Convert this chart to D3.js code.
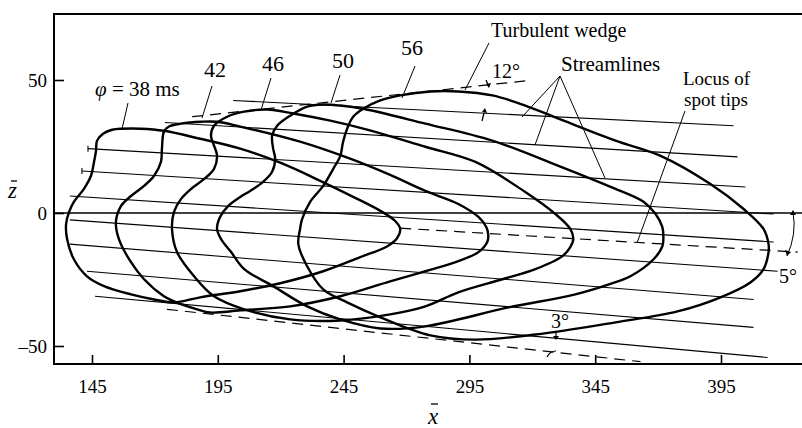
<!DOCTYPE html>
<html><head><meta charset="utf-8">
<script src="https://cdn.jsdelivr.net/npm/d3@7"></script>
<style>
html,body{margin:0;padding:0;background:#fff;}
svg{display:block;}
text{font-family:"Liberation Serif","Times New Roman",serif;fill:#000;}
</style></head>
<body>
<svg id="c" width="802" height="428"></svg>
<script>
// ---------- data ----------
const xTicks = [145, 195, 245, 295, 345, 395];
const zTicks = [50, 0, -50];
const spotLabels = ["\u03c6 = 38 ms", "42", "46", "50", "56"];

// spot outlines (x̄, z̄), one closed curve per time
const spot38 = [[147.0,27.2],[149.4,29.8],[153.0,31.3],[156.9,31.7],[164.5,31.7],[173.6,30.9],[188.0,27.9],[203.9,24.2],[219.8,18.9],[235.7,12.1],[249.6,5.7],[259.6,0.8],[265.5,-3.0],[267.5,-6.0],[266.3,-9.4],[262.4,-12.5],[251.6,-16.6],[236.9,-21.9],[219.8,-26.4],[203.9,-29.4],[188.0,-31.7],[177.6,-33.6],[169.7,-32.5],[160.5,-30.6],[149.8,-27.5],[143.0,-23.8],[137.8,-17.4],[135.1,-9.8],[134.7,-4.2],[135.9,0.4],[137.8,4.2],[141.8,9.1],[144.6,14.0],[145.8,19.2],[146.6,23.4]];
const spot42 = [[173.6,30.6],[175.6,32.5],[180.4,33.6],[188.4,34.3],[194.7,34.3],[203.9,32.5],[227.7,26.8],[247.6,20.4],[263.5,14.3],[277.5,8.3],[290.6,3.4],[298.6,-1.5],[301.7,-5.3],[302.5,-8.3],[302.1,-10.9],[298.6,-14.7],[290.6,-18.1],[277.5,-21.9],[263.5,-25.7],[243.7,-31.3],[223.8,-35.1],[203.9,-36.6],[191.9,-37.4],[186.8,-36.2],[177.6,-33.2],[173.6,-31.3],[165.7,-24.9],[160.5,-18.5],[155.7,-9.8],[154.5,-3.4],[156.5,2.6],[160.5,6.4],[165.7,10.2],[169.7,14.0],[172.4,19.2],[172.8,24.2]];
const spot46 = [[192.3,29.1],[193.5,32.8],[198.7,36.2],[205.5,38.1],[214.6,38.9],[225.0,37.4],[239.7,34.7],[252.8,31.7],[277.5,24.9],[297.4,19.2],[317.2,7.9],[329.2,-0.4],[335.1,-6.0],[336.3,-9.8],[335.1,-12.8],[332.0,-16.2],[321.2,-21.1],[308.1,-24.9],[290.6,-29.8],[277.5,-35.1],[263.5,-38.1],[243.7,-40.4],[223.8,-40.0],[205.5,-36.2],[193.5,-31.3],[185.6,-23.8],[178.8,-14.7],[176.8,-6.0],[177.6,0.4],[180.4,5.3],[184.4,9.1],[189.6,12.8],[193.5,16.6],[194.7,21.5]];
const spot50 = [[216.6,29.1],[218.6,32.8],[223.8,36.6],[230.5,40.0],[236.9,40.8],[243.7,40.4],[252.8,39.2],[277.5,33.6],[304.1,27.2],[330.4,17.7],[351.1,9.8],[364.2,4.2],[369.0,-0.4],[371.7,-5.3],[372.1,-9.1],[371.7,-12.5],[368.2,-17.4],[359.0,-23.8],[353.1,-26.0],[337.1,-30.6],[310.5,-35.5],[277.5,-42.6],[259.6,-43.4],[243.7,-40.0],[230.5,-35.1],[217.0,-27.5],[205.5,-21.1],[200.3,-14.7],[196.3,-9.8],[194.7,-6.0],[195.9,-1.5],[199.1,2.6],[203.9,6.0],[207.9,8.3],[213.0,11.7],[216.6,15.5],[217.8,20.4],[217.0,24.2]];
const spot56 = [[252.8,39.2],[259.6,42.3],[267.5,44.2],[279.5,45.7],[290.6,45.7],[304.1,44.2],[317.2,40.4],[330.4,35.5],[353.1,27.2],[371.0,21.5],[390.8,10.9],[404.0,1.5],[411.9,-6.0],[413.9,-11.7],[413.9,-14.7],[411.9,-21.1],[406.8,-26.0],[394.8,-31.7],[377.7,-37.0],[353.1,-41.1],[321.2,-45.7],[297.4,-47.6],[279.5,-46.0],[259.6,-39.2],[246.4,-33.6],[236.9,-28.7],[230.5,-20.0],[227.0,-11.7],[227.7,-6.0],[228.5,-2.3],[231.7,4.2],[236.9,10.2],[240.9,16.6],[243.7,21.5],[244.8,26.8],[246.4,31.7],[248.8,36.2]];

// streamlines: straight segments from (x0,z0) to (x1,z1)
const streamX0 = [201.1, 174.0, 143.4, 141.0, 136.2, 136.2, 136.2, 143.0, 146.2];
const streamZ0 = [42.3, 34.0, 24.2, 15.8, 6.4, -2.6, -11.7, -21.9, -31.3];
const streamX1 = [400.0, 401.6, 404.7, 415.9, 415.9, 417.5, 408.0, 407.9, 413.5];
const streamZ1 = [32.8, 21.1, 9.8, -0.4, -10.9, -21.9, -32.5, -43.0, -54.3];

// dashed reference lines: turbulent wedge (upper), lower wedge, locus of spot tips
const wedgeUpper = [[184.8, 36.2], [318.4, 49.8]];
const wedgeLower = [[174.8, -36.2], [363.0, -55.9]];
const tipLocus   = [[267.5, -5.7], [425.5, -14.7]];

// ---------- drawing ----------
const svg = d3.select("#c");
const L = 54, R = 802, T = 14, B = 364;
const x = d3.scaleLinear().domain([145, 395]).range([92, 721]);
const z = d3.scaleLinear().domain([-50, 50]).range([346, 80]);

const defs = svg.append("defs");
defs.append("clipPath").attr("id", "clip").append("rect")
  .attr("x", L).attr("y", T).attr("width", R - L).attr("height", B - T);

const g = svg.append("g").attr("clip-path", "url(#clip)");

// zero line
g.append("line").attr("x1", L).attr("x2", R).attr("y1", z(0)).attr("y2", z(0))
  .attr("stroke", "#000").attr("stroke-width", 1.6);

// streamlines
streamX0.forEach((_, i) => {
  g.append("line")
    .attr("x1", x(streamX0[i])).attr("y1", z(streamZ0[i]))
    .attr("x2", x(streamX1[i])).attr("y2", z(streamZ1[i]))
    .attr("stroke", "#000").attr("stroke-width", 1.1);
});
// small arrow marks at the start of two streamlines
[2, 3].forEach(i => {
  const px = x(streamX0[i]), py = z(streamZ0[i]);
  g.append("line").attr("x1", px).attr("x2", px).attr("y1", py - 3).attr("y2", py + 3)
    .attr("stroke", "#000").attr("stroke-width", 1.1);
});

// dashed lines
[wedgeUpper, wedgeLower, tipLocus].forEach(seg => {
  g.append("line")
    .attr("x1", x(seg[0][0])).attr("y1", z(seg[0][1]))
    .attr("x2", x(seg[1][0])).attr("y2", z(seg[1][1]))
    .attr("stroke", "#000").attr("stroke-width", 1.2)
    .attr("stroke-dasharray", "11,7");
});

// spots
const line = d3.line().x(d => x(d[0])).y(d => z(d[1])).curve(d3.curveCatmullRomClosed.alpha(0.5));
[spot38, spot42, spot46, spot50, spot56].forEach(s => {
  g.append("path").attr("d", line(s)).attr("fill", "none")
    .attr("stroke", "#000").attr("stroke-width", 2.4);
});

// frame
const frame = svg.append("g").attr("stroke", "#000").attr("stroke-width", 2).attr("fill", "none");
frame.append("line").attr("x1", L).attr("x2", L).attr("y1", T).attr("y2", B + 1);
frame.append("line").attr("x1", L - 1).attr("x2", R).attr("y1", B).attr("y2", B);
frame.append("line").attr("x1", L - 1).attr("x2", R).attr("y1", T).attr("y2", T);

// axes via d3
const xAxis = d3.axisBottom(x).tickValues(xTicks).tickSizeInner(-9).tickSizeOuter(0).tickPadding(16);
const xa = svg.append("g").attr("transform", `translate(0,${B})`).call(xAxis);
xa.select(".domain").remove();
xa.selectAll("line").attr("stroke", "#000").attr("stroke-width", 1.6);
xa.selectAll("text").attr("font-size", 19).attr("font-family", "Liberation Serif, serif");

const zAxis = d3.axisLeft(z).tickValues(zTicks).tickSizeInner(-10).tickSizeOuter(0).tickPadding(16)
  .tickFormat(d => d < 0 ? "\u2013" + Math.abs(d) : d);
const za = svg.append("g").attr("transform", `translate(${L},0)`).call(zAxis);
za.select(".domain").remove();
za.selectAll("line").attr("stroke", "#000").attr("stroke-width", 1.6);
za.selectAll("text").attr("font-size", 19).attr("font-family", "Liberation Serif, serif").attr("dx", 9);

// axis titles
svg.append("text").attr("x", 428).attr("y", 424).attr("font-size", 23).attr("font-style", "italic").text("x");
svg.append("line").attr("x1", 431).attr("x2", 438).attr("y1", 404).attr("y2", 404).attr("stroke", "#000").attr("stroke-width", 1.3);
svg.append("text").attr("x", 8).attr("y", 198).attr("font-size", 23).attr("font-style", "italic").text("z");
svg.append("line").attr("x1", 11).attr("x2", 17).attr("y1", 181).attr("y2", 181).attr("stroke", "#000").attr("stroke-width", 1.3);

// annotations
const ann = svg.append("g");
const addText = (t, px, py, size, anchor) => ann.append("text").attr("x", px).attr("y", py)
  .attr("font-size", size).attr("text-anchor", anchor || "start").text(t);
const addLine = (x1, y1, x2, y2, w) => ann.append("line").attr("x1", x1).attr("y1", y1).attr("x2", x2).attr("y2", y2)
  .attr("stroke", "#000").attr("stroke-width", w || 1);

// φ = 38 ms
const phi = ann.append("text").attr("x", 95).attr("y", 96).attr("font-size", 21);
phi.append("tspan").attr("font-style", "italic").text("\u03c6");
phi.append("tspan").text(" = 38 ms");
addLine(128, 103, 122, 129);
addText(spotLabels[1], 215, 77, 22, "middle"); addLine(212, 86, 202, 118);
addText(spotLabels[2], 273, 71, 22, "middle"); addLine(271, 78, 261, 110);
addText(spotLabels[3], 343, 68, 22, "middle"); addLine(340, 75, 331, 103);
addText(spotLabels[4], 412, 55, 22, "middle"); addLine(415, 66, 402, 98);

addText("Turbulent wedge", 491, 37, 20);
addLine(489, 43, 465, 90);
addText("12\u00b0", 492, 78, 20);
addLine(486, 80, 489, 87, 1.3);
ann.append("path").attr("d", "M486,84 L489,88 L491,83 Z").attr("fill", "#000");
addLine(484, 113, 482, 121, 1.3);
ann.append("path").attr("d", "M482,112 L485,108 L487,113 Z").attr("fill", "#000");

addText("Streamlines", 561, 71, 21);
addLine(560, 76, 522, 117); addLine(560, 76, 535, 145); addLine(560, 76, 605, 178);

addText("Locus of", 683, 85, 19);
addText("spot tips", 684, 106, 19);
addLine(685, 111, 637, 243);

addText("5\u00b0", 779, 283, 20);
ann.append("path").attr("d", "M793,212 Q797,234 787,256").attr("fill", "none").attr("stroke", "#000").attr("stroke-width", 1);
ann.append("path").attr("d", "M790,215 L793,210 L796,215 Z").attr("fill", "#000");
ann.append("path").attr("d", "M785,250 L787,256 L791,252 Z").attr("fill", "#000");

addText("3\u00b0", 551, 328, 20);
addLine(556, 331, 556, 337, 1.2);
ann.append("path").attr("d", "M553,336 L556,340 L559,336 Z").attr("fill", "#000");
ann.append("path").attr("d", "M547,357 Q550,351 556,351").attr("fill", "none").attr("stroke", "#000").attr("stroke-width", 1.2);
</script>
</body></html>
